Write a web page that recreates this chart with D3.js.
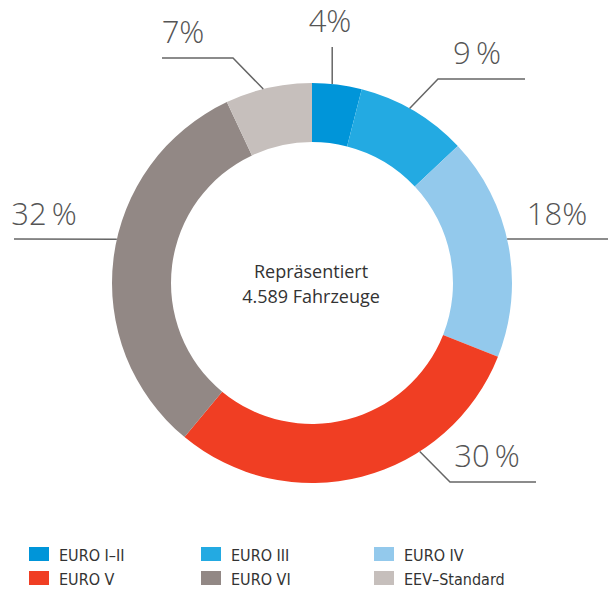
<!DOCTYPE html>
<html>
<head>
<meta charset="utf-8">
<script src="https://cdn.jsdelivr.net/npm/d3@7"></script>
<style>
  html, body { margin: 0; padding: 0; background: #fff; }
  svg { display: block; }
</style>
</head>
<body>
<svg id="chart" width="608" height="589"></svg>
<script>
// ---- Data ----
const categories = ["EURO I–II", "EURO III", "EURO IV", "EURO V", "EURO VI", "EEV–Standard"];
const values = [4, 9, 18, 30, 32, 7];
const valueLabels = ["4%", "9\u2009%", "18%", "30\u2009%", "32\u2009%", "7%"];
const colors = ["#0095d9", "#23aae2", "#93c9ec", "#f03e23", "#928885", "#c6bfbc"];
const centerLines = ["Repräsentiert", "4.589 Fahrzeuge"];

// ---- Layout ----
const cx = 312, cy = 283;
const rOuter = 200, rInner = 141;

const svg = d3.select("#chart");
const g = svg.append("g").attr("transform", `translate(${cx},${cy})`);

const pie = d3.pie().value(d => d).sort(null);
const arcs = pie(values);
const arc = d3.arc().innerRadius(rInner).outerRadius(rOuter);

g.selectAll("path.slice")
  .data(arcs)
  .join("path")
  .attr("class", "slice")
  .attr("d", arc)
  .attr("fill", (d, i) => colors[i]);

// Leader line layout: angle (deg from north) where line touches ring,
// elbow point and end point (relative to centre), label anchor.
const leaderLayout = [
  { ang: 5.8,   elbow: null,        end: [20, -236],  label: [18, -251] },
  { ang: 29.2,  elbow: [126, -204], end: [213, -204], label: [165, -219] },
  { ang: 77.3,  elbow: null,        end: [296, -44],  label: [245, -58] },
  { ang: 147.4, elbow: [138, 199],  end: [224, 199],  label: [175, 184] },
  { ang: 282.6, elbow: null,        end: [-298, -44], label: [-268, -58] },
  { ang: 345.9, elbow: [-79, -225], end: [-150, -225],label: [-129, -240] }
];

function polar(angDeg, r) {
  const a = angDeg * Math.PI / 180;
  return [r * Math.sin(a), -r * Math.cos(a)];
}

const line = d3.line();
g.selectAll("path.leader")
  .data(leaderLayout)
  .join("path")
  .attr("class", "leader")
  .attr("d", d => {
    const p0 = polar(d.ang, rOuter);
    const pts = [p0];
    if (d.elbow) { pts.push(d.elbow); pts.push(d.end); }
    else if (Math.abs(d.end[1] - p0[1]) < 1) pts.push(d.end);
    else pts.push([p0[0], d.end[1]]);
    return line(pts);
  })
  .attr("fill", "none")
  .attr("stroke", "#666")
  .attr("stroke-width", 1.5);

g.selectAll("text.pct")
  .data(leaderLayout)
  .join("text")
  .attr("class", "pct")
  .attr("x", d => d.label[0])
  .attr("y", d => d.label[1])
  .attr("text-anchor", "middle")
  .attr("font-family", "'Open Sans', 'Noto Sans', sans-serif")
  .attr("font-weight", 300)
  .attr("font-size", 31)
  .attr("fill", "#555")
  .text((d, i) => valueLabels[i]);

// Centre text
g.selectAll("text.center")
  .data(centerLines)
  .join("text")
  .attr("class", "center")
  .attr("x", -1)
  .attr("y", (d, i) => -5 + i * 25)
  .attr("text-anchor", "middle")
  .attr("font-family", "'Open Sans', 'Noto Sans', sans-serif")
  .attr("font-size", 18)
  .attr("fill", "#333")
  .text(d => d);

// Legend
const legendX = [29, 201, 374];
const legendY = [547, 571];
const legend = svg.append("g");
const items = legend.selectAll("g.item")
  .data(categories)
  .join("g")
  .attr("class", "item")
  .attr("transform", (d, i) => {
    const col = i % 3;
    const row = i < 3 ? 0 : 1;
    return `translate(${legendX[col]},${legendY[row]})`;
  });
items.append("rect")
  .attr("width", 20)
  .attr("height", 14)
  .attr("fill", (d, i) => colors[i]);
items.append("text")
  .attr("x", 30)
  .attr("y", 14)
  .attr("font-family", "'DejaVu Sans Condensed', 'DejaVu Sans', sans-serif")
  .style("font-stretch", "condensed")
  .attr("font-size", 16)
  .attr("fill", "#333")
  .text(d => d);
</script>
</body>
</html>
